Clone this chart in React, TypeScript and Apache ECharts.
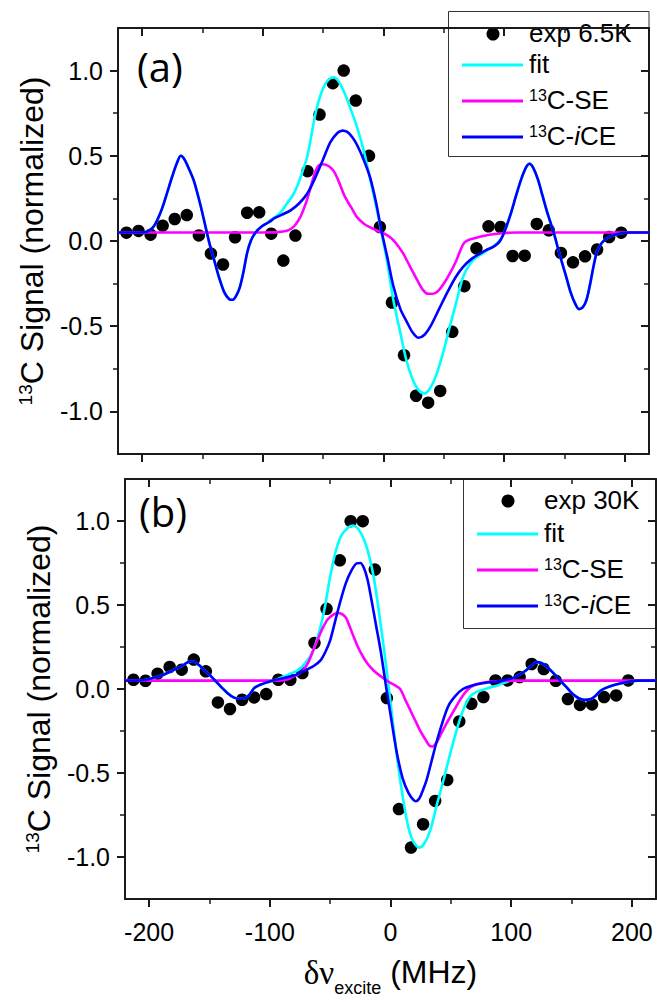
import React, { useEffect, useRef } from "react";
import * as echarts from "echarts";

// ---------- axis ranges & ticks ----------
const X_MIN = -220;
const X_MAX = 220;
const Y_MIN = -1.25;
const Y_MAX = 1.25;
const xMajorTicks = [-200, -100, 0, 100, 200];
const xMinorTicks = [-150, -50, 50, 150];
const yMajorTicks = [-1, -0.5, 0, 0.5, 1];
const yMinorTicks = [-0.75, -0.25, 0.25, 0.75];

// ---------- panel (a): 6.5 K ----------
const expA: number[][] = [
  [-213, 0.049], [-203, 0.059], [-193, 0.037], [-183, 0.09], [-173, 0.129], [-163, 0.152],
  [-153, 0.033], [-143, -0.074], [-133, -0.138], [-123, 0.022], [-113, 0.166], [-103, 0.168],
  [-93, 0.043], [-83, -0.115], [-73, 0.032], [-63, 0.41], [-53, 0.742], [-42, 0.926],
  [-33, 1.0], [-23, 0.824], [-12, 0.5], [-3, 0.082], [7, -0.361], [17, -0.67],
  [27, -0.908], [37, -0.949], [47, -0.88], [57, -0.533], [67, -0.265], [77, -0.043],
  [87, 0.086], [97, 0.082], [107, -0.088], [117, -0.086], [127, 0.1], [137, 0.063],
  [147, -0.07], [157, -0.125], [167, -0.09], [177, -0.05], [187, 0.023], [197, 0.049],
];

const iceA: number[][] = [
  [-220, 0.05], [-205, 0.05], [-196, 0.055], [-191, 0.08], [-187, 0.13], [-183, 0.2],
  [-179, 0.29], [-175, 0.38], [-171, 0.46], [-168, 0.5], [-165, 0.48], [-161, 0.42],
  [-157, 0.35], [-152, 0.22], [-148, 0.1], [-144, -0.02], [-140, -0.12], [-136, -0.22],
  [-132, -0.3], [-128, -0.34], [-125, -0.345], [-122, -0.32], [-119, -0.27], [-116, -0.18],
  [-113, -0.07], [-110, 0.0], [-106, 0.05], [-101, 0.085], [-95, 0.11], [-90, 0.135],
  [-84, 0.155], [-77, 0.18], [-70, 0.22], [-63, 0.28], [-56, 0.38], [-50, 0.48],
  [-44, 0.58], [-38, 0.635], [-34, 0.648], [-30, 0.64], [-26, 0.61], [-22, 0.565],
  [-16, 0.47], [-11, 0.37], [-6, 0.22], [-2, 0.07], [3, -0.09], [8, -0.26],
  [14, -0.4], [19, -0.47], [24, -0.535], [29, -0.568], [34, -0.55], [39, -0.5],
  [46, -0.4], [53, -0.3], [60, -0.21], [66, -0.152], [73, -0.105], [80, -0.074],
  [86, -0.05], [91, -0.035], [96, -0.005], [100, 0.05], [105, 0.15], [110, 0.27],
  [114, 0.36], [118, 0.43], [121, 0.453], [124, 0.43], [128, 0.36], [132, 0.26],
  [136, 0.16], [141, 0.05], [146, -0.08], [151, -0.2], [155, -0.3], [159, -0.37],
  [162, -0.4], [165, -0.39], [168, -0.35], [171, -0.26], [174, -0.15], [177, -0.06],
  [181, -0.01], [186, 0.02], [193, 0.04], [203, 0.05], [220, 0.05],
];

const fitA: number[][] = [
  [-220, 0.05], [-205, 0.05], [-196, 0.055], [-191, 0.08], [-187, 0.13], [-183, 0.2],
  [-179, 0.29], [-175, 0.38], [-171, 0.46], [-168, 0.5], [-165, 0.48], [-161, 0.42],
  [-157, 0.35], [-152, 0.22], [-148, 0.1], [-144, -0.02], [-140, -0.12], [-136, -0.22],
  [-132, -0.3], [-128, -0.34], [-125, -0.345], [-122, -0.32], [-119, -0.27], [-116, -0.18],
  [-113, -0.07], [-110, 0.0], [-106, 0.05], [-101, 0.085], [-95, 0.115], [-90, 0.14],
  [-85, 0.17], [-80, 0.22], [-75, 0.27], [-71, 0.33], [-67, 0.41], [-63, 0.5],
  [-59, 0.65], [-56, 0.76], [-52, 0.86], [-48, 0.925], [-44, 0.955], [-41, 0.96],
  [-37, 0.935], [-33, 0.88], [-28, 0.79], [-22, 0.67], [-16, 0.52], [-11, 0.36],
  [-6, 0.2], [-2, 0.06], [3, -0.12], [8, -0.34], [14, -0.54], [19, -0.7],
  [24, -0.81], [29, -0.875], [34, -0.895], [39, -0.86], [44, -0.78], [50, -0.64],
  [55, -0.5], [61, -0.34], [66, -0.21], [72, -0.13], [77, -0.095], [83, -0.07],
  [88, -0.045], [93, -0.02], [97, 0.01], [100, 0.05], [105, 0.15], [110, 0.27],
  [114, 0.36], [118, 0.43], [121, 0.453], [124, 0.43], [128, 0.36], [132, 0.26],
  [136, 0.16], [141, 0.05], [146, -0.08], [151, -0.2], [155, -0.3], [159, -0.37],
  [162, -0.4], [165, -0.39], [168, -0.35], [171, -0.26], [174, -0.15], [177, -0.06],
  [181, -0.01], [186, 0.02], [193, 0.04], [203, 0.05], [220, 0.05],
];

const seA: number[][] = [
  [-220, 0.05], [-100, 0.05], [-88, 0.052], [-80, 0.06], [-76, 0.075], [-73, 0.095],
  [-69, 0.14], [-66, 0.19], [-63, 0.25], [-59, 0.35], [-55, 0.43], [-51, 0.45],
  [-47, 0.445], [-43, 0.425], [-40, 0.395], [-36, 0.33], [-32, 0.26], [-27, 0.2],
  [-22, 0.14], [-16, 0.1], [-11, 0.08], [-5, 0.06], [0, 0.045], [5, 0.025],
  [10, -0.01], [16, -0.07], [22, -0.15], [28, -0.23], [33, -0.29], [37, -0.31],
  [41, -0.31], [45, -0.295], [50, -0.25], [55, -0.19], [60, -0.12], [64, -0.05],
  [67, -0.01], [72, 0.01], [80, 0.025], [88, 0.037], [100, 0.047], [112, 0.05], [220, 0.05],
];

// ---------- panel (b): 30 K ----------
const expB: number[][] = [
  [-213, 0.055], [-203, 0.049], [-193, 0.091], [-183, 0.131], [-173, 0.115], [-163, 0.175],
  [-153, 0.105], [-143, -0.08], [-133, -0.119], [-123, -0.064], [-113, -0.05], [-103, -0.03],
  [-93, 0.055], [-83, 0.055], [-73, 0.095], [-63, 0.274], [-53, 0.477], [-42, 0.766],
  [-33, 0.999], [-23, 0.999], [-13, 0.711], [-3, -0.054], [7, -0.715], [17, -0.944],
  [27, -0.805], [37, -0.666], [47, -0.541], [57, -0.193], [67, -0.088], [77, -0.048],
  [87, 0.051], [97, 0.051], [107, 0.071], [117, 0.149], [127, 0.119], [137, 0.049],
  [147, -0.06], [157, -0.095], [167, -0.092], [177, -0.048], [187, -0.038], [197, 0.051],
];

const iceB: number[][] = [
  [-220, 0.05], [-205, 0.052], [-195, 0.07], [-188, 0.085], [-181, 0.11], [-174, 0.132],
  [-169, 0.155], [-166, 0.165], [-162, 0.16], [-158, 0.138], [-154, 0.11], [-150, 0.085],
  [-146, 0.055], [-140, 0.01], [-135, -0.025], [-130, -0.05], [-126, -0.058], [-121, -0.055],
  [-117, -0.035], [-113, 0.005], [-108, 0.025], [-102, 0.04], [-95, 0.055], [-88, 0.066],
  [-80, 0.08], [-74, 0.1], [-68, 0.12], [-63, 0.14], [-58, 0.17], [-54, 0.22],
  [-50, 0.29], [-46, 0.4], [-42, 0.51], [-37, 0.63], [-32, 0.71], [-28, 0.748],
  [-25, 0.75], [-22, 0.72], [-19, 0.65], [-16, 0.54], [-12, 0.38], [-8, 0.22],
  [-4, 0.03], [0, -0.15], [5, -0.37], [10, -0.53], [15, -0.62], [19, -0.66],
  [21, -0.668], [24, -0.65], [27, -0.6], [30, -0.54], [34, -0.43], [38, -0.32],
  [43, -0.2], [48, -0.1], [54, -0.04], [60, 0.0], [67, 0.02], [75, 0.033],
  [88, 0.045], [96, 0.055], [102, 0.066], [108, 0.09], [113, 0.115], [117, 0.14],
  [121, 0.16], [125, 0.155], [130, 0.13], [135, 0.095], [140, 0.055], [146, 0.01],
  [151, -0.03], [156, -0.055], [161, -0.065], [166, -0.06], [170, -0.04], [174, -0.01],
  [178, 0.005], [186, 0.025], [196, 0.042], [205, 0.05], [220, 0.05],
];

const fitB: number[][] = [
  [-220, 0.05], [-205, 0.052], [-195, 0.07], [-188, 0.085], [-181, 0.11], [-174, 0.132],
  [-169, 0.155], [-166, 0.165], [-162, 0.16], [-158, 0.138], [-154, 0.11], [-150, 0.085],
  [-146, 0.055], [-140, 0.01], [-135, -0.025], [-130, -0.05], [-126, -0.058], [-121, -0.055],
  [-117, -0.035], [-113, 0.005], [-108, 0.025], [-102, 0.04], [-95, 0.055], [-88, 0.075],
  [-80, 0.1], [-75, 0.12], [-70, 0.16], [-66, 0.2], [-62, 0.27], [-58, 0.37],
  [-54, 0.5], [-51, 0.63], [-48, 0.74], [-45, 0.83], [-41, 0.91], [-36, 0.955],
  [-31, 0.973], [-27, 0.955], [-22, 0.89], [-18, 0.8], [-14, 0.67], [-10, 0.48],
  [-6, 0.27], [-2, 0.04], [2, -0.2], [6, -0.44], [11, -0.68], [15, -0.83],
  [19, -0.91], [24, -0.944], [28, -0.92], [33, -0.84], [38, -0.7], [44, -0.54],
  [50, -0.37], [55, -0.24], [60, -0.13], [66, -0.044], [72, -0.015], [77, -0.004],
  [83, 0.01], [88, 0.02], [94, 0.035], [99, 0.05], [102, 0.066], [108, 0.09],
  [113, 0.115], [117, 0.14], [121, 0.16], [125, 0.155], [130, 0.13], [135, 0.095],
  [140, 0.055], [146, 0.01], [151, -0.03], [156, -0.055], [161, -0.065], [166, -0.06],
  [170, -0.04], [174, -0.01], [178, 0.005], [186, 0.025], [196, 0.042], [205, 0.05], [220, 0.05],
];

const seB: number[][] = [
  [-220, 0.05], [-92, 0.05], [-85, 0.058], [-80, 0.075], [-76, 0.09], [-72, 0.115],
  [-68, 0.16], [-64, 0.23], [-60, 0.3], [-56, 0.365], [-52, 0.415], [-48, 0.44],
  [-44, 0.452], [-40, 0.445], [-37, 0.425], [-34, 0.375], [-31, 0.32], [-27, 0.25],
  [-23, 0.195], [-19, 0.15], [-14, 0.11], [-9, 0.08], [-4, 0.055], [0, 0.036],
  [4, 0.02], [8, 0.0], [12, -0.06], [16, -0.12], [20, -0.18], [24, -0.24],
  [28, -0.29], [32, -0.335], [35, -0.342], [38, -0.32], [41, -0.28], [46, -0.21],
  [50, -0.16], [54, -0.11], [58, -0.06], [62, -0.02], [66, 0.01], [72, 0.03],
  [80, 0.042], [90, 0.048], [100, 0.05], [220, 0.05],
];

const legendNamesA = ["exp 6.5K", "fit", "13C-SE", "13C-iCE"];
const legendNamesB = ["exp 30K", "fit", "13C-SE", "13C-iCE"];

// ---------- styles ----------
const SANS = '"Liberation Sans", Arial, sans-serif';
const SERIF = '"Liberation Serif", "Times New Roman", serif';
const AX = "#1a1a1a";
const C_FIT = "#00FFFF";
const C_SE = "#FF00FF";
const C_ICE = "#0000FF";

function xAxesFor(grid: number, showLabels: boolean) {
  const base: any = {
    type: "value",
    gridIndex: grid,
    min: X_MIN,
    max: X_MAX,
    splitLine: { show: false },
  };
  const major: any = {
    ...base,
    position: "bottom",
    axisLine: { show: true, onZero: false, lineStyle: { color: AX, width: 2 } },
    axisTick: { show: true, inside: false, length: 8, customValues: xMajorTicks, lineStyle: { color: AX, width: 2 } },
    axisLabel: {
      show: showLabels,
      customValues: xMajorTicks,
      margin: 20,
      fontSize: 25,
      fontFamily: SANS,
      color: "#000",
      formatter: (v: number) => String(v),
    },
  };
  if (showLabels) {
    major.name = "{g|δν}{s|excite}{t| (MHz)}";
    major.nameLocation = "middle";
    major.nameGap = 57;
    major.nameTextStyle = {
      color: "#000",
      fontFamily: SANS,
      fontSize: 32,
      rich: {
        g: { fontFamily: SERIF, fontSize: 33, verticalAlign: "top", color: "#000" },
        s: { fontFamily: SANS, fontSize: 18, verticalAlign: "top", padding: [23, 0, 0, 0], color: "#000" },
        t: { fontFamily: SANS, fontSize: 32, verticalAlign: "top", color: "#000" },
      },
    };
  }
  const minor: any = {
    ...base,
    position: "bottom",
    axisLine: { show: false, onZero: false },
    axisTick: { show: true, inside: false, length: 5, customValues: xMinorTicks, lineStyle: { color: AX, width: 1.5 } },
    axisLabel: { show: false, customValues: xMinorTicks },
  };
  const topMajor: any = {
    ...base,
    position: "top",
    axisLine: { show: true, onZero: false, lineStyle: { color: AX, width: 2 } },
    axisTick: { show: true, inside: true, length: 8, customValues: xMajorTicks, lineStyle: { color: AX, width: 2 } },
    axisLabel: { show: false, customValues: xMajorTicks },
  };
  const topMinor: any = {
    ...base,
    position: "top",
    axisLine: { show: false, onZero: false },
    axisTick: { show: true, inside: true, length: 5, customValues: xMinorTicks, lineStyle: { color: AX, width: 1.5 } },
    axisLabel: { show: false, customValues: xMinorTicks },
  };
  return [major, minor, topMajor, topMinor];
}

function yAxesFor(grid: number) {
  const base: any = {
    type: "value",
    gridIndex: grid,
    min: Y_MIN,
    max: Y_MAX,
    splitLine: { show: false },
  };
  const major: any = {
    ...base,
    position: "left",
    axisLine: { show: true, onZero: false, lineStyle: { color: AX, width: 2 } },
    axisTick: { show: true, inside: false, length: 8, customValues: yMajorTicks, lineStyle: { color: AX, width: 2 } },
    axisLabel: {
      show: true,
      customValues: yMajorTicks,
      margin: 15,
      fontSize: 25,
      fontFamily: SANS,
      color: "#000",
      formatter: (v: number) => v.toFixed(1),
    },
    name: "{sup|13}{t|C Signal (normalized)}",
    nameLocation: "middle",
    nameRotate: 90,
    nameGap: 66,
    nameTextStyle: {
      color: "#000",
      fontFamily: SANS,
      fontSize: 32,
      rich: {
        sup: { fontFamily: SANS, fontSize: 19, lineHeight: 19, verticalAlign: "top", color: "#000" },
        t: { fontFamily: SANS, fontSize: 32, lineHeight: 36, verticalAlign: "top", color: "#000" },
      },
    },
  };
  const minor: any = {
    ...base,
    position: "left",
    axisLine: { show: false, onZero: false },
    axisTick: { show: true, inside: false, length: 5, customValues: yMinorTicks, lineStyle: { color: AX, width: 1.5 } },
    axisLabel: { show: false, customValues: yMinorTicks },
  };
  const rMajor: any = {
    ...base,
    position: "right",
    axisLine: { show: true, onZero: false, lineStyle: { color: AX, width: 2 } },
    axisTick: { show: true, inside: true, length: 8, customValues: yMajorTicks, lineStyle: { color: AX, width: 2 } },
    axisLabel: { show: false, customValues: yMajorTicks },
  };
  const rMinor: any = {
    ...base,
    position: "right",
    axisLine: { show: false, onZero: false },
    axisTick: { show: true, inside: true, length: 5, customValues: yMinorTicks, lineStyle: { color: AX, width: 1.5 } },
    axisLabel: { show: false, customValues: yMinorTicks },
  };
  return [major, minor, rMajor, rMinor];
}

function panelSeries(axisIdx: number, names: string[], exp: number[][], fit: number[][], se: number[][], ice: number[][]) {
  const line = (name: string, data: number[][], color: string) => ({
    type: "line",
    name,
    xAxisIndex: axisIdx,
    yAxisIndex: axisIdx,
    data,
    smooth: 0.3,
    showSymbol: false,
    symbol: "none",
    lineStyle: { color, width: 2.6 },
    itemStyle: { color },
  });
  return [
    {
      type: "scatter",
      name: names[0],
      xAxisIndex: axisIdx,
      yAxisIndex: axisIdx,
      data: exp,
      symbol: "circle",
      symbolSize: 12.5,
      itemStyle: { color: "#000", opacity: 1 },
    },
    line(names[1], fit, C_FIT),
    line(names[2], se, C_SE),
    line(names[3], ice, C_ICE),
  ];
}

function legendGraphic(names: string[], box: { x: number; y: number; w: number; h: number }, dotX: number, rows: number[], lineX1: number, lineX2: number, textX: number) {
  const rich = {
    n: { fontFamily: SANS, fontSize: 26, lineHeight: 30, verticalAlign: "top", fill: "#000" },
    it: { fontFamily: SANS, fontSize: 26, fontStyle: "italic", lineHeight: 30, verticalAlign: "top", fill: "#000" },
    sup: { fontFamily: SANS, fontSize: 16, lineHeight: 16, verticalAlign: "top", fill: "#000" },
  };
  const labels = [
    `{n|${names[0]}}`,
    `{n|${names[1]}}`,
    "{sup|13}{n|C-SE}",
    "{sup|13}{n|C-}{it|i}{n|CE}",
  ];
  const colors = [C_FIT, C_SE, C_ICE];
  const children: any[] = [
    {
      type: "rect",
      shape: { x: box.x, y: box.y, width: box.w, height: box.h },
      style: { fill: "#fff", stroke: "#333", lineWidth: 1 },
    },
    {
      type: "circle",
      shape: { cx: dotX, cy: rows[0], r: 6.5 },
      style: { fill: "#000" },
    },
  ];
  for (let i = 0; i < 3; i++) {
    children.push({
      type: "line",
      shape: { x1: lineX1, y1: rows[i + 1], x2: lineX2, y2: rows[i + 1] },
      style: { stroke: colors[i], lineWidth: 3 },
    });
  }
  labels.forEach((t, i) => {
    children.push({
      type: "text",
      style: {
        text: t,
        x: textX,
        y: rows[i] + 1,
        align: "left",
        verticalAlign: "middle",
        rich,
        fill: "#000",
        fontFamily: SANS,
        fontSize: 26,
      },
    });
  });
  return { type: "group", z: 100, children };
}

export default function App() {
  const ref = useRef<HTMLDivElement>(null);

  useEffect(() => {
    if (!ref.current) return;
    const chart = echarts.init(ref.current, null, { renderer: "svg" });
    const option: any = {
      animation: false,
      backgroundColor: "#fff",
      textStyle: { fontFamily: SANS },
      grid: [
        { left: 118, top: 28, width: 531, height: 426, containLabel: false, outerBoundsMode: "none" },
        { left: 125, top: 479, width: 531, height: 420, containLabel: false, outerBoundsMode: "none" },
      ],
      xAxis: [...xAxesFor(0, false), ...xAxesFor(1, true)],
      yAxis: [...yAxesFor(0), ...yAxesFor(1)],
      series: [
        ...panelSeries(0, legendNamesA, expA, fitA, seA, iceA),
        ...panelSeries(4, legendNamesB, expB, fitB, seB, iceB),
      ],
      graphic: [
        {
          type: "text",
          z: 50,
          style: { text: "(a)", x: 137, y: 66, verticalAlign: "middle", fontFamily: '"Open Sans", sans-serif', fontSize: 40, fill: "#000" },
        },
        {
          type: "text",
          z: 50,
          style: { text: "(b)", x: 139, y: 511, verticalAlign: "middle", fontFamily: '"Open Sans", sans-serif', fontSize: 40, fill: "#000" },
        },
        legendGraphic(legendNamesA, { x: 448.5, y: 11.5, w: 200.5, h: 145 }, 493, [34, 65, 101, 137], 462, 523, 529),
        legendGraphic(legendNamesB, { x: 463.5, y: 479.5, w: 193, h: 149 }, 508, [501, 534, 570, 606], 477, 538, 544),
      ],
    };
    chart.setOption(option);
    return () => chart.dispose();
  }, []);

  return (
    <div
      ref={ref}
      style={{ position: "fixed", left: 0, top: 0, width: 657, height: 1002, background: "#fff" }}
    />
  );
}
